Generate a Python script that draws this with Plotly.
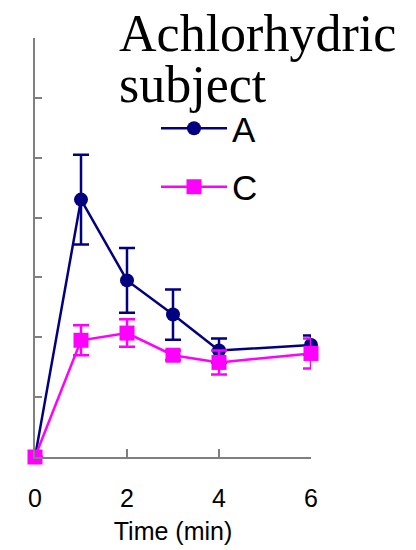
import plotly.graph_objects as go

time_min = [0, 1, 2, 3, 4, 6]
series_a = [0, 4.30, 2.95, 2.38, 1.78, 1.87]
series_a_err = [0, 0.75, 0.54, 0.42, 0.20, 0.16]
series_c = [0, 1.95, 2.07, 1.70, 1.58, 1.73]
series_c_err = [0, 0.25, 0.23, 0.08, 0.20, 0.25]
x_ticks = [0, 2, 4, 6]
y_ticks = [0, 1, 2, 3, 4, 5, 6, 7]

NAVY = "#000080"
MAGENTA = "#FF00FF"
SANS = "Liberation Sans, Arial, sans-serif"
SERIF = "Liberation Serif, Times New Roman, serif"

fig = go.Figure()
fig.add_trace(go.Scatter(
    x=time_min, y=series_a, name="A", mode="lines+markers",
    line=dict(color=NAVY, width=2.5),
    marker=dict(color=NAVY, size=14, symbol="circle"),
    error_y=dict(type="data", array=series_a_err, color=NAVY, thickness=2.5, width=8),
    cliponaxis=False, legendgroup="a",
))
fig.add_trace(go.Scatter(
    x=time_min, y=series_c, name="C", mode="lines+markers",
    line=dict(color=MAGENTA, width=2.5),
    marker=dict(color=MAGENTA, size=15, symbol="square"),
    error_y=dict(type="data", array=series_c_err, color=MAGENTA, thickness=2.5, width=8),
    cliponaxis=False, legendgroup="c",
))

W, H = 416, 550
L, R, T, B = 35, 105, 38, 93
PW, PH = W - L - R, H - T - B

fig.update_layout(
    width=W, height=H,
    margin=dict(l=L, r=R, t=T, b=B, pad=0, autoexpand=False),
    paper_bgcolor="white", plot_bgcolor="white",
    showlegend=True,
    legend=dict(
        x=(156 - L) / PW, y=1 - (99 - T) / PH, xanchor="left", yanchor="top",
        font=dict(family=SANS, size=35, color="black"),
        bgcolor="rgba(0,0,0,0)", itemwidth=66,
        tracegroupgap=10, traceorder="grouped",
    ),
    xaxis=dict(
        range=[0, 6], tickvals=x_ticks, ticktext=[str(v) for v in x_ticks],
        showgrid=False, zeroline=False, showline=True, linecolor="#808080", linewidth=1.5,
        ticks="inside", ticklen=8, tickwidth=1.5, tickcolor="#808080",
        tickfont=dict(family=SANS, size=25, color="black"),
        ticklabelstandoff=18,
        title=dict(text="Time (min)", font=dict(family=SANS, size=25, color="black"), standoff=12),
    ),
    yaxis=dict(
        range=[0, 7], tickvals=y_ticks, showticklabels=False,
        showgrid=False, zeroline=False, showline=True, linecolor="#808080", linewidth=1.5,
        ticks="inside", ticklen=7, tickwidth=1.5, tickcolor="#808080",
    ),
    annotations=[
        dict(text="Achlorhydric", xref="paper", yref="paper", x=(117 - L) / PW, y=1 + 5 / PH,
             xanchor="left", yanchor="middle", showarrow=False,
             font=dict(family=SERIF, size=52, color="black")),
        dict(text="subject", xref="paper", yref="paper", x=(117 - L) / PW, y=1 - 46 / PH,
             xanchor="left", yanchor="middle", showarrow=False,
             font=dict(family=SERIF, size=52, color="black")),
    ],
)

fig.write_html("out.html")
